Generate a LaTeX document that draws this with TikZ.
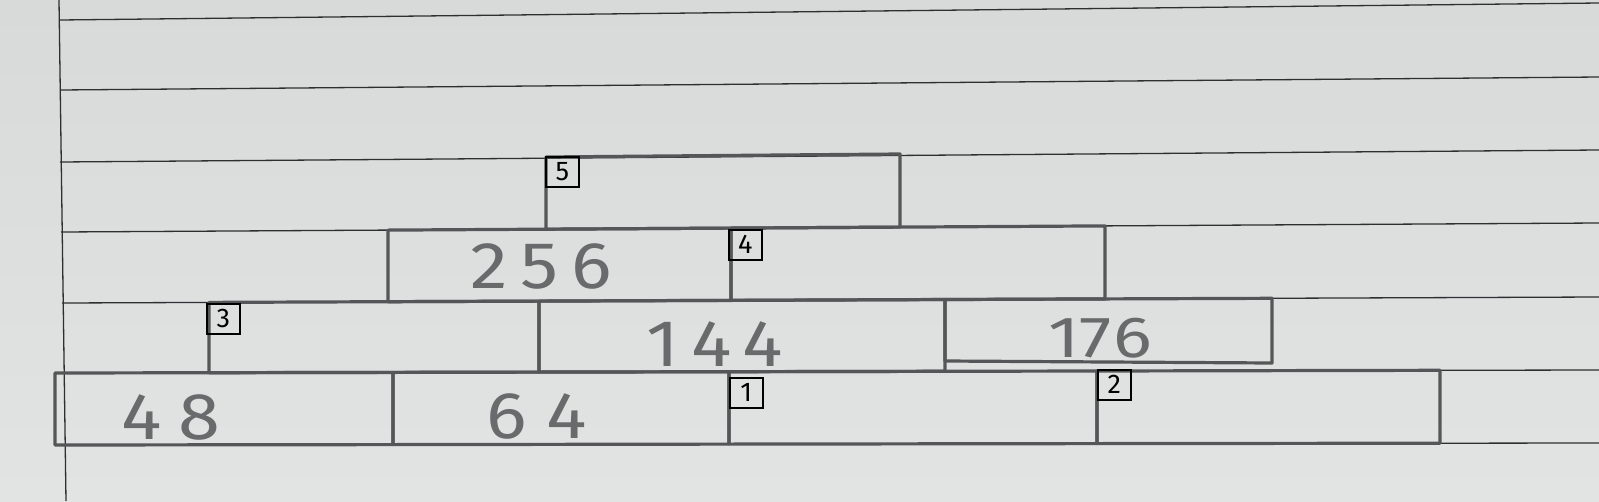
\documentclass[tikz,border=0pt]{standalone}
\usepackage{graphicx}
\usepackage{fontspec}
\setmainfont{Fira Sans}
\definecolor{papertop}{RGB}{216,218,218}
\definecolor{paperbot}{RGB}{226,227,227}
\definecolor{rulec}{RGB}{45,47,48}
\definecolor{pencil}{RGB}{85,86,87}
\definecolor{pnum}{RGB}{105,106,107}
\newcommand\hnum[1]{\scalebox{1.15}[1]{#1}}
\tikzset{
  ruled/.style={draw=rulec, line width=1.3pt},
  brick/.style={draw=pencil, line width=3.2pt, line join=round, line cap=round},
  num/.style={text=pnum, font=\fontsize{66}{66}\selectfont, inner sep=0pt},
  tag/.style={draw=black, line width=1.6pt, text=black, font=\fontsize{27}{27}\selectfont,
    minimum width=33pt, minimum height=30pt, inner sep=0pt, anchor=north west},
}
\begin{document}
\begin{tikzpicture}[x=1pt,y=-1pt]
\useasboundingbox (0,0) rectangle (1599,501);
\shade[top color=papertop, bottom color=paperbot] (0,0) rectangle (1599,501);
% margin line
\draw[ruled] (59,0) -- (66,501);
% ruled lines
\draw[ruled] (60,20) -- (1599,3);
\draw[ruled] (60,90) -- (1599,77);
\draw[ruled] (60,162) -- (1599,150);
\draw[ruled] (61,232) -- (1599,223);
\draw[ruled] (62,303) -- (1599,297);
\draw[ruled] (63,373) -- (1599,370);
\draw[ruled] (64,445) -- (1599,443);
% row 1
\draw[brick] (55,373) -- (393,372.4) -- (393,444.6) -- (55,445) -- cycle;
\draw[brick] (393,372.4) -- (729,371.7) -- (729,444.1) -- (393,444.6) -- cycle;
\draw[brick] (729,371.7) -- (1097,371) -- (1097,443.6) -- (729,444.1) -- cycle;
\draw[brick] (1097,371) -- (1440,370.3) -- (1440,443.2) -- (1097,443.6) -- cycle;
% row 2
\draw[brick] (209,302.4) -- (539,301.1) -- (539,372.1) -- (209,372.7) -- cycle;
\draw[brick] (539,301.1) -- (945,299.5) -- (945,371.3) -- (539,372.1) -- cycle;
\draw[brick] (945,299.5) -- (1272,298.3) -- (1272,363) -- (945,361) -- cycle;
% row 3
\draw[brick] (388,230.1) -- (731,228.1) -- (731,300.4) -- (388,301.7) -- cycle;
\draw[brick] (731,228.1) -- (1105,225.9) -- (1105,298.9) -- (731,300.4) -- cycle;
% row 4
\draw[brick] (546,157) -- (900,154) -- (900,227.1) -- (546,229.2) -- cycle;
% numbers
\node[num] (n48) at (171,417) {\hnum{4\kern15pt8}};
\node[num] (n64) at (537,416) {\hnum{6\kern17pt4}};
\node[num] (n256) at (541,266) {\hnum{2\kern11pt5\kern11pt6}};
\node[num] (n144) at (715,344) {\hnum{1\kern10pt4\kern10pt4}};
\node[num, font=\fontsize{58}{58}\selectfont] (n176) at (1100,338) {\scalebox{1.25}[1]{1\kern0pt7\kern1pt6}};
% tags
\node[tag] (t5) at (545,156) {5};
\node[tag] (t4) at (728,229) {4};
\node[tag] (t3) at (206,303) {3};
\node[tag] (t1) at (729,377) {1};
\node[tag] (t2) at (1097,369) {2};
\end{tikzpicture}
\end{document}
